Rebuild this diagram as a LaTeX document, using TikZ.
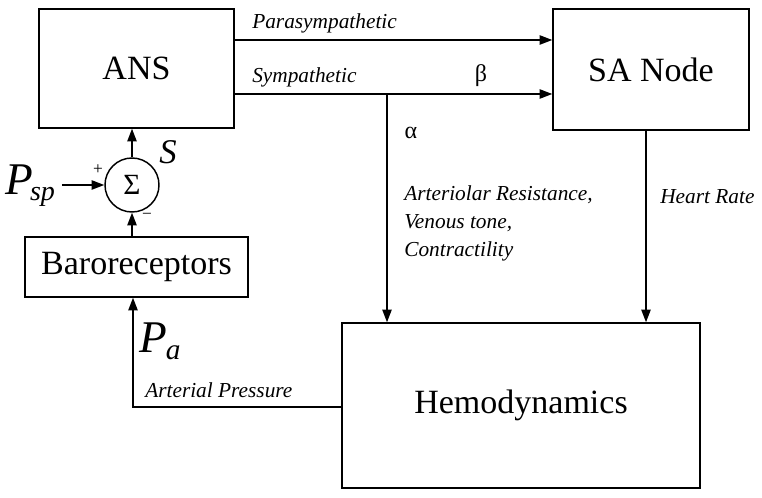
\documentclass[tikz,border=0pt]{standalone}
\usepackage{fontspec}
\setmainfont{Liberation Serif}
\usetikzlibrary{arrows.meta}

\tikzset{
  block/.style={draw, line width=1.1pt, inner sep=0pt, font=\fontsize{25.5}{30}\selectfont},
  sumnode/.style={draw, circle, line width=1.1pt, inner sep=0pt, minimum size=40.5pt,
    font=\fontsize{22}{24}\selectfont},
  sig/.style={inner sep=0pt, font=\fontsize{16}{21}\selectfont\itshape},
  greek/.style={inner sep=0pt, font=\fontsize{18}{20}\selectfont},
  var/.style={inner sep=0pt, font=\fontsize{34}{38}\selectfont\itshape},
  sgn/.style={inner sep=0pt, font=\fontsize{13}{14}\selectfont},
  arr/.style={line width=1.1pt, -{Triangle[length=9.5pt,width=7pt]}},
}

\begin{document}
\begin{tikzpicture}[x=0.75pt, y=-0.75pt]
\useasboundingbox (0,0) rectangle (762,498);

% blocks
\node[block, minimum width=146.25pt, minimum height=89.25pt] (ans) at (136.5,68.5) {ANS};
\node[block, minimum width=147pt, minimum height=90.75pt] (sa) at (651,69.5) {SA Node};
\node[block, minimum width=167.25pt, minimum height=45pt] (baro) at (136.5,267) {Baroreceptors};
\node[block, minimum width=268.5pt, minimum height=123.75pt] (hemo) at (521,405.5) {Hemodynamics};
\node[sumnode] (sum) at (132,185) {Σ};

% branch points
\coordinate (par) at (300,40);
\coordinate (br) at (387,94);
\coordinate (hr) at (646,200);
\coordinate (ap) at (133,407);

% signals
\node[var] (psp) at (30,186) {P\kern-2pt\raisebox{-0.3ex}{\fontsize{21}{24}\selectfont sp}};
\node[var] (pa) at (160,341) {P\kern-1pt\raisebox{-0.35ex}{\fontsize{22}{24}\selectfont a}};
\node[var, font=\fontsize{26}{30}\selectfont\itshape] (s) at (168,152) {S};
\node[sgn] (plus) at (98,170) {+};
\node[sgn] (minus) at (147,216) {−};

\node[sig, anchor=west] (parl) at (252,23) {Parasympathetic};
\node[sig, anchor=west] (sympl) at (252,77) {Sympathetic};
\node[greek] (beta) at (481,76) {β};
\node[greek] (alpha) at (411,133) {α};
\node[sig, anchor=north west, align=left] (eff) at (404,185)
  {Arteriolar Resistance,\\Venous tone,\\Contractility};
\node[sig, anchor=west] (hrl) at (660,197) {Heart Rate};
\node[sig, anchor=west] (apl) at (145,390) {Arterial Pressure};

% connectors
\draw[arr] (par -| ans.east) -- (par -| sa.west);
\draw[arr] (br -| ans.east) -- (br -| sa.west);
\draw[arr] (br) -- (br |- hemo.north);
\draw[arr] (hr |- sa.south) -- (hr |- hemo.north);
\draw[arr] (ap -| hemo.west) -- (ap) -- (ap |- baro.south);
\draw[arr] (baro.north -| sum) -- (sum.south);
\draw[arr] (sum.north) -- (sum.north |- ans.south);
\draw[arr, shorten <=5pt] (psp.east |- sum) -- (sum.west);

\end{tikzpicture}
\end{document}
